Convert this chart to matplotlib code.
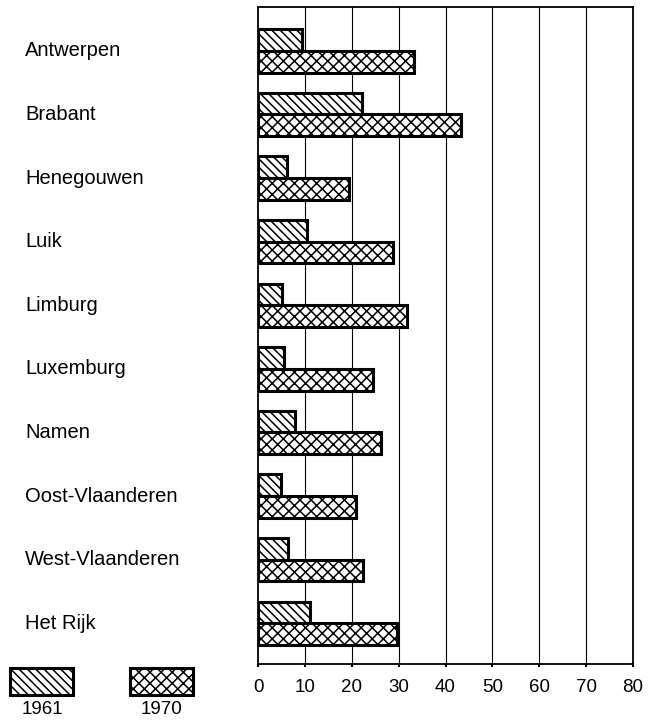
import numpy as np
import matplotlib
matplotlib.use("Agg")
import matplotlib.pyplot as plt
from matplotlib.patches import Rectangle
from matplotlib import transforms

provinces = ["Antwerpen", "Brabant", "Henegouwen", "Luik", "Limburg",
             "Luxemburg", "Namen", "Oost-Vlaanderen", "West-Vlaanderen", "Het Rijk"]
values_1961 = [9.4, 22.1, 6.2, 10.4, 5.1, 5.6, 7.9, 4.8, 6.4, 11.1]
values_1970 = [33.2, 43.4, 19.5, 28.9, 31.7, 24.5, 26.3, 20.8, 22.5, 29.7]
years = ["1961", "1970"]
hatches = ["\\\\\\\\", "xxx"]
xticks = [0, 10, 20, 30, 40, 50, 60, 70, 80]

plt.rcParams['font.family'] = ['Liberation Sans', 'DejaVu Sans']
plt.rcParams['hatch.linewidth'] = 1.1

W, H = 654, 720
fig = plt.figure(figsize=(W / 100, H / 100), dpi=100)
ax = fig.add_axes([258 / W, 1 - 664 / H, (633 - 258) / W, (664 - 7) / H])

y = np.arange(len(provinces))
bh = 0.34
ax.barh(y - bh / 2, values_1961, height=bh, color="white", edgecolor="black",
        linewidth=2.2, hatch=hatches[0], zorder=3)
ax.barh(y + bh / 2, values_1970, height=bh, color="white", edgecolor="black",
        linewidth=2.2, hatch=hatches[1], zorder=3)

ax.set_xlim(0, 80)
ax.set_ylim(len(provinces) - 1 + 0.64, -0.69)
ax.set_xticks(xticks)
ax.set_xticklabels([str(t) for t in xticks], fontsize=13.5)
ax.tick_params(axis="x", length=2.5, width=1.5, pad=8)
ax.set_yticks([])
for xv in xticks[1:-1]:
    ax.axvline(xv, color="black", linewidth=0.8, zorder=1)
for s in ax.spines.values():
    s.set_linewidth(1.3)

trans = transforms.blended_transform_factory(fig.transFigure, ax.transData)
for i, name in enumerate(provinces):
    ax.text(25 / W, i, name, transform=trans, ha="left", va="center",
            fontsize=14.5, clip_on=False)

# legend boxes below the labels
legend_x = [10, 130]
for lx, yr, h in zip(legend_x, years, hatches):
    fig.add_artist(Rectangle((lx / W, 1 - 695 / H), 63 / W, 27 / H,
                             transform=fig.transFigure, facecolor="white",
                             edgecolor="black", linewidth=2.2, hatch=h))
    fig.text((lx + 32) / W, 1 - 710 / H, yr, ha="center", va="center", fontsize=13.5)

fig.savefig("out.png", dpi=100)
